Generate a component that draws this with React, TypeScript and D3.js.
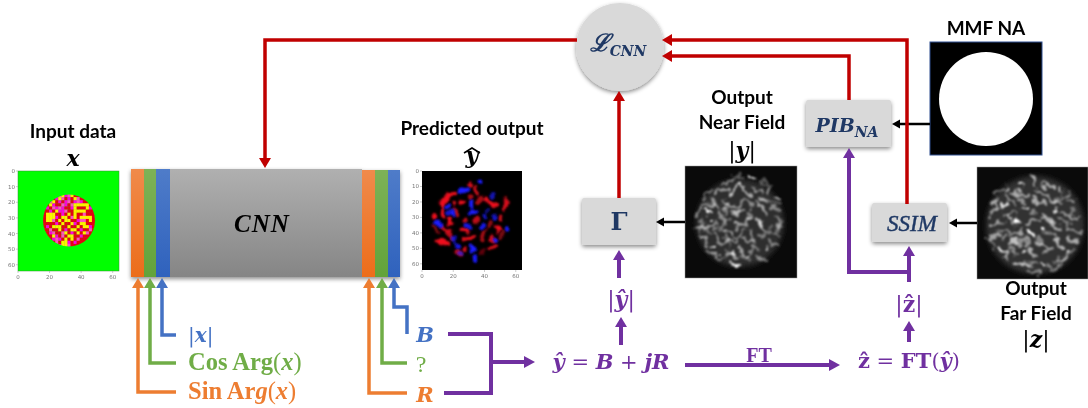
import React from "react";
import * as d3 from "d3";

type P = [number, number];
const RED = "#c00000", ORANGE = "#ed7d31", GREEN = "#70ad47", BLUE = "#4472c4", PURPLE = "#7030a0", NAVY = "#1f3864", BLACK = "#000000";
const SERIF = "'DejaVu Serif','Liberation Serif',serif";
const TNR = "'Liberation Serif',serif";
const SANS = "Lato,'Open Sans',sans-serif";

// Connectors: polyline, colour, width, arrow head length, half width
const connectors: { pts: P[]; c: string; w: number; hl: number; hw: number }[] = [
  { pts: [[577, 40], [265, 40], [265, 168]], c: RED, w: 3.5, hl: 10, hw: 6 },
  { pts: [[849, 100], [849, 56], [662, 56]], c: RED, w: 3.5, hl: 10, hw: 6 },
  { pts: [[619, 198], [619, 91]], c: RED, w: 3.5, hl: 10, hw: 6 },
  { pts: [[930, 124], [892, 124]], c: BLACK, w: 2.5, hl: 8, hw: 4.5 },
  { pts: [[907, 204], [907, 40], [662, 40]], c: RED, w: 3.5, hl: 10, hw: 6 },
  { pts: [[685, 222], [656, 222]], c: BLACK, w: 2.5, hl: 8, hw: 4.5 },
  { pts: [[977, 223], [949, 223]], c: BLACK, w: 2.5, hl: 8, hw: 4.5 },
  { pts: [[176, 392], [138, 392], [138, 278]], c: ORANGE, w: 3.5, hl: 10, hw: 6 },
  { pts: [[176, 363], [150, 363], [150, 278]], c: GREEN, w: 3.5, hl: 10, hw: 6 },
  { pts: [[176, 335], [162, 335], [162, 278]], c: BLUE, w: 3.5, hl: 10, hw: 6 },
  { pts: [[407, 393], [369, 393], [369, 278]], c: ORANGE, w: 3.5, hl: 10, hw: 6 },
  { pts: [[407, 363], [382, 363], [382, 278]], c: GREEN, w: 3.5, hl: 10, hw: 6 },
  { pts: [[407, 334], [407, 307], [394, 307], [394, 278]], c: BLUE, w: 3.5, hl: 10, hw: 6 },
  { pts: [[491, 362], [535, 362]], c: PURPLE, w: 4, hl: 11, hw: 6 },
  { pts: [[621, 345], [621, 317]], c: PURPLE, w: 4, hl: 10, hw: 6 },
  { pts: [[619, 278], [619, 250]], c: PURPLE, w: 4, hl: 10, hw: 6 },
  { pts: [[685, 365], [840, 365]], c: PURPLE, w: 4, hl: 11, hw: 6 },
  { pts: [[909, 342], [909, 321]], c: PURPLE, w: 4, hl: 10, hw: 6 },
  { pts: [[909, 282], [909, 246]], c: PURPLE, w: 4, hl: 10, hw: 6 },
  { pts: [[909, 272], [849, 272], [849, 148]], c: PURPLE, w: 4, hl: 10, hw: 6 },
];
const plainLines: { pts: P[]; c: string; w: number }[] = [
  { pts: [[448, 334], [491, 334], [491, 393], [444, 393]], c: PURPLE, w: 4 },
];

// Input phase pattern, one char per 2-pixel cell of the disk
const inputCells = [
  "RRRRRPYMPYRRRRRRR", "RRRRMYPRMRYPRRRRR", "RRPYRMRMPRMPMRRRR", "RRYMRRPMRPYYYYYRR",
  "RMRPMPMRRMYRRRYMR", "RRMRYMMPRRYYYYRRR", "RYYYRRMRYRYRRPRRR", "RYYYMRYYRPYRYYYYR",
  "RYYPRYRYYRRMPPRYR", "RRRRMRYRRYMRYYRRR", "RMRYYYRRYRRYRYYMR", "RRPRRYRMRYYRMRRPR",
  "RRMPRRPYRMRYRYPRR", "RRRYMRPRYYRRMRRRR", "RRRMPMRYRYRPRRRRR", "RRRRPRYYMRMRRRRRR",
  "RRRRRMYYPRRRRRRRR",
];
const cellColor: Record<string, string> = { R: "#e60012", Y: "#fff000", M: "#ff00e0", P: "#ff50c0" };

type Seg = [number, number, number, number, number];
// x1,y1,x2,y2,brightness in the crop frame of each picture
const predRed: Seg[] = [
  [85, 85, 110, 75, 1], [65, 110, 80, 90, 1], [70, 150, 65, 120, 1], [40, 148, 42, 150, 1], [50, 215, 85, 230, 1],
  [195, 95, 225, 110, 1], [260, 100, 255, 120, .9], [250, 140, 245, 155, .9], [145, 45, 147, 50, .9], [130, 100, 132, 105, 1],
  [90, 155, 92, 165, 1], [125, 185, 145, 188, 1], [225, 175, 235, 187, 1], [215, 205, 215, 220, .9], [130, 240, 132, 245, .9],
  [113, 250, 120, 265, .8], [135, 212, 165, 208, 1], [85, 195, 100, 215, .8], [100, 105, 102, 108, .9], [160, 60, 170, 75, .9],
  [210, 243, 225, 235, .9], [130, 160, 140, 155, .8], [165, 155, 168, 158, .8], [70, 175, 85, 185, .9], [105, 125, 118, 135, .8], [190, 215, 195, 190, .7], [175, 100, 180, 90, .7],
  [205, 175, 215, 160, .6], [150, 85, 152, 92, .7], [40, 175, 55, 190, .5], [240, 210, 250, 195, .5], [180, 255, 195, 250, .4],
];
const predBlue: Seg[] = [
  [125, 70, 140, 65, 1], [178, 45, 180, 45, 1], [80, 115, 82, 112, 1], [155, 105, 155, 118, 1], [165, 132, 150, 135, 1],
  [100, 135, 102, 138, 1], [50, 165, 65, 170, 1], [262, 185, 263, 187, 1.2], [222, 215, 224, 217, 1], [150, 175, 135, 172, .9],
  [185, 175, 187, 172, .9], [155, 240, 157, 248, 1], [168, 270, 170, 272, 1], [110, 235, 112, 230, .9], [105, 215, 107, 212, .8],
  [225, 145, 228, 143, .8], [215, 80, 217, 82, .7], [190, 150, 192, 148, .8], [120, 258, 122, 262, .7], [85, 140, 95, 132, .8], [200, 130, 203, 125, .5],
];
const nearSpeckle: Seg[] = [
  [75, 142, 77, 143, 1], [80, 163, 82, 163, 1], [93, 240, 95, 240, 1], [196, 275, 198, 273, 1], [150, 301, 178, 301, .95], [196, 42, 216, 44, .95], [258, 75, 258, 78, .8], [285, 100, 287, 102, .8],
  [255, 255, 258, 254, .85], [152, 262, 154, 270, .85], [100, 270, 104, 272, .7], [240, 180, 232, 165, .7], [155, 175, 175, 175, .7],
  [145, 95, 175, 60, .75], [175, 60, 200, 90, .6], [100, 80, 140, 75, .55], [120, 60, 150, 50, .45], [60, 120, 100, 120, .55], [50, 150, 60, 130, .5], [45, 190, 90, 190, .5],
  [60, 215, 75, 245, .55], [120, 195, 155, 210, .6], [130, 130, 170, 125, .6], [150, 150, 195, 140, .5], [215, 110, 255, 150, .6], [230, 100, 260, 120, .5],
  [225, 170, 250, 195, .65], [270, 130, 300, 140, .45], [280, 160, 295, 190, .45], [265, 210, 290, 215, .4], [120, 240, 160, 230, .55], [180, 225, 220, 240, .55],
  [210, 195, 205, 225, .5], [110, 150, 135, 170, .45], [170, 190, 205, 165, .5], [100, 210, 115, 235, .5], [220, 280, 255, 290, .45], [90, 105, 115, 135, .5],
  [255, 225, 285, 250, .45], [130, 260, 165, 285, .5], [175, 250, 185, 270, .55], [215, 70, 240, 90, .5], [240, 50, 265, 70, .3], [75, 265, 115, 290, .45], [55, 170, 75, 205, .35], [125, 110, 130, 150, .4], [190, 110, 210, 130, .45], [90, 215, 70, 180, .3], [205, 290, 175, 275, .35], [150, 40, 180, 35, .3],
  [100, 165, 100, 195, .4], [135, 175, 110, 190, .35], [175, 210, 160, 225, .4], [195, 195, 180, 210, .4], [235, 215, 265, 195, .4], [225, 255, 205, 262, .4], [280, 215, 300, 170, .3], [70, 100, 90, 70, .4], [180, 110, 165, 145, .45], [210, 145, 200, 170, .4], [240, 105, 285, 120, .35], [50, 215, 55, 190, .3], [130, 215, 140, 250, .35], [115, 285, 150, 270, .35],
];
const farSpeckle: Seg[] = [
  [135, 62, 145, 65, 1], [262, 70, 262, 85, .95], [75, 255, 100, 262, 1], [130, 160, 135, 175, 1], [145, 135, 160, 135, 1], [205, 200, 210, 200, 1], [170, 205, 180, 215, 1], [285, 262, 285, 270, .9], [148, 263, 152, 265, .9],
  [210, 295, 220, 300, .9], [240, 135, 250, 140, .85], [90, 118, 96, 122, .85], [100, 70, 95, 85, .7], [120, 85, 150, 95, .6], [175, 40, 190, 65, .65], [205, 60, 235, 70, .6],
  [60, 120, 65, 145, .55], [45, 150, 80, 135, .5], [55, 185, 90, 170, .55], [45, 225, 80, 210, .55], [100, 150, 120, 185, .6], [170, 100, 210, 120, .6], [190, 85, 250, 115, .5],
  [280, 110, 300, 115, .55], [270, 150, 310, 165, .5], [290, 190, 320, 205, .5], [280, 225, 310, 235, .6], [230, 175, 265, 200, .6], [205, 150, 230, 170, .6], [160, 175, 195, 170, .55],
  [115, 215, 140, 200, .55], [110, 240, 130, 230, .7], [185, 235, 225, 250, .6], [240, 225, 265, 250, .65], [170, 250, 180, 280, .6], [120, 295, 160, 300, .7], [90, 285, 105, 270, .55],
  [240, 285, 275, 285, .55], [165, 320, 200, 325, .45], [60, 90, 85, 75, .4], [210, 270, 235, 255, .5], [130, 270, 110, 255, .45], [150, 215, 160, 240, .5], [280, 90, 255, 105, .4], [300, 255, 270, 290, .4], [75, 195, 110, 200, .45], [155, 115, 135, 105, .5],
  [100, 100, 125, 125, .45], [70, 100, 60, 115, .4], [190, 135, 170, 150, .45], [215, 210, 240, 210, .45], [195, 215, 205, 240, .4], [135, 235, 145, 225, .45], [85, 225, 100, 215, .5], [250, 165, 285, 180, .4], [265, 125, 245, 110, .4], [150, 290, 190, 305, .4], [225, 310, 265, 305, .4], [60, 250, 50, 230, .4], [120, 150, 85, 150, .4], [300, 135, 285, 150, .35],
];

const tickYs = [0, 10, 20, 30, 40, 50, 60];
const tickXs = [0, 20, 40, 60];

const line = d3.line<P>();

function Conn({ pts, c, w, hl, hw }: { pts: P[]; c: string; w: number; hl: number; hw: number }) {
  const tip = pts[pts.length - 1];
  const prev = pts[pts.length - 2];
  const len = Math.hypot(tip[0] - prev[0], tip[1] - prev[1]);
  const ux = (tip[0] - prev[0]) / len, uy = (tip[1] - prev[1]) / len;
  const base: P = [tip[0] - ux * hl, tip[1] - uy * hl];
  const head: P[] = [tip, [base[0] - uy * hw, base[1] + ux * hw], [base[0] + uy * hw, base[1] - ux * hw]];
  return (
    <g>
      <path d={line([...pts.slice(0, -1), base]) ?? ""} fill="none" stroke={c} strokeWidth={w} strokeLinejoin="miter" />
      <path d={(line(head) ?? "") + "Z"} fill={c} />
    </g>
  );
}

function Axes({ x0, y0, x1, y1 }: { x0: number; y0: number; x1: number; y1: number }) {
  const sx = d3.scaleLinear().domain([0, 64]).range([x0, x1]);
  const sy = d3.scaleLinear().domain([0, 64]).range([y0, y1]);
  return (
    <g fontFamily="'DejaVu Sans',sans-serif" fontSize={5.5} fill="#777">
      {tickYs.map(t => (
        <g key={t}>
          <line x1={x0 - 2} x2={x0} y1={sy(t)} y2={sy(t)} stroke="#999" strokeWidth={0.5} />
          <text x={x0 - 3} y={sy(t) + 2} textAnchor="end">{t}</text>
        </g>
      ))}
      {tickXs.map(t => (
        <g key={t}>
          <line y1={y1} y2={y1 + 2} x1={sx(t)} x2={sx(t)} stroke="#999" strokeWidth={0.5} />
          <text x={sx(t)} y={y1 + 8} textAnchor="middle">{t}</text>
        </g>
      ))}
    </g>
  );
}

function Speckle({ id, data, frame, sw, color, blur }: { id: string; data: Seg[]; frame: [number, number, number, number]; sw: number; color: string; blur: string }) {
  const sx = d3.scaleLinear().domain([0, frame[2]]).range([frame[0], frame[0] + frame[2] / 3]);
  const sy = d3.scaleLinear().domain([0, frame[3]]).range([frame[1], frame[1] + frame[3] / 3]);
  return (
    <g clipPath={`url(#${id})`}>
      <g filter={`url(#${blur})`} style={{ mixBlendMode: "screen" }}>
        {data.map((d, i) => (
          <line key={i} x1={sx(d[0])} y1={sy(d[1])} x2={sx(d[2])} y2={sy(d[3])} stroke={color} strokeWidth={sw} strokeLinecap="round" strokeOpacity={Math.min(1, d[4])} />
        ))}
      </g>
    </g>
  );
}

function Label({ x, y, size, fill = "#000", anchor = "middle", family = SANS, weight = 700, style, children }: any) {
  return <text x={x} y={y} fontSize={size} fill={fill} textAnchor={anchor} fontFamily={family} fontWeight={weight} fontStyle={style}>{children}</text>;
}

function GradBox({ x, y, w, h, fill }: { x: number; y: number; w: number; h: number; fill: string }) {
  return <rect x={x} y={y} width={w} height={h} fill={fill} />;
}

export default function App() {
  const band = d3.scaleBand<number>().domain(d3.range(inputCells[0].length)).range([43, 95]);
  const bandY = d3.scaleBand<number>().domain(d3.range(inputCells.length)).range([194, 247]);
  return (
    <svg width={1088} height={408} viewBox="0 0 1088 408" style={{ position: "absolute", left: 0, top: 0, background: "#fff", filter: "blur(0.35px)" }}>
      <defs>
        <filter id="shadow" x="-20%" y="-20%" width="140%" height="140%"><feDropShadow dx="0" dy="2" stdDeviation="2" floodColor="#000" floodOpacity="0.45" /></filter>
        <filter id="b05"><feGaussianBlur stdDeviation="0.5" /></filter>
        <filter id="b3" x="-10%" y="-10%" width="120%" height="120%"><feGaussianBlur stdDeviation="2.5" /></filter>
        <filter id="bPred" x="-10%" y="-10%" width="120%" height="120%">
          <feTurbulence type="fractalNoise" baseFrequency="0.09" numOctaves="2" seed="4" result="n" />
          <feDisplacementMap in="SourceGraphic" in2="n" scale="9" xChannelSelector="R" yChannelSelector="G" />
          <feGaussianBlur stdDeviation="1.3" />
        </filter>
        <filter id="bSpk" x="-10%" y="-10%" width="120%" height="120%">
          <feTurbulence type="fractalNoise" baseFrequency="0.12" numOctaves="2" seed="7" result="n" />
          <feDisplacementMap in="SourceGraphic" in2="n" scale="14" xChannelSelector="R" yChannelSelector="G" />
          <feGaussianBlur stdDeviation="0.95" />
        </filter>
        <linearGradient id="gGray" x1="0" y1="0" x2="0" y2="1"><stop offset="0" stopColor="#b0b0b0" /><stop offset="1" stopColor="#858585" /></linearGradient>
        <linearGradient id="gOrange" x1="0" y1="0" x2="0" y2="1"><stop offset="0" stopColor="#f08a4b" /><stop offset="1" stopColor="#ec6d1a" /></linearGradient>
        <linearGradient id="gGreen" x1="0" y1="0" x2="0" y2="1"><stop offset="0" stopColor="#7db257" /><stop offset="1" stopColor="#62a33a" /></linearGradient>
        <linearGradient id="gBlue" x1="0" y1="0" x2="0" y2="1"><stop offset="0" stopColor="#4f7cc9" /><stop offset="1" stopColor="#2f62bd" /></linearGradient>
        <clipPath id="diskIn"><circle cx={69} cy={220.5} r={26} /></clipPath>
        <clipPath id="cPred"><rect x={422} y={171} width={100} height={99} /></clipPath>
        <clipPath id="cNear"><rect x={685} y={166} width={112} height={112} /></clipPath>
        <clipPath id="cFar"><rect x={977} y={167} width={111} height={112} /></clipPath>
      </defs>

      {/* CNN block */}
      <g filter="url(#shadow)">
        <GradBox x={131} y={169} w={231} h={108} fill="url(#gGray)" />
        <GradBox x={362} y={170} w={38} h={107} fill="url(#gGray)" />
      </g>
      <GradBox x={131} y={169} w={13} h={108} fill="url(#gOrange)" />
      <GradBox x={144} y={169} w={12} h={108} fill="url(#gGreen)" />
      <GradBox x={156} y={169} w={14} h={108} fill="url(#gBlue)" />
      <GradBox x={362} y={170} w={13} h={107} fill="url(#gOrange)" />
      <GradBox x={375} y={170} w={13} h={107} fill="url(#gGreen)" />
      <GradBox x={388} y={170} w={12} h={107} fill="url(#gBlue)" />
      <text x={262} y={232} textAnchor="middle" fontFamily={TNR} fontStyle="italic" fontWeight={700} fontSize={25} letterSpacing={1}>CNN</text>

      {/* Input image */}
      <rect x={18} y={171} width={101} height={100} fill="#00ff00" stroke="#3a8a3a" strokeWidth={0.5} />
      <g clipPath="url(#diskIn)"><g filter="url(#b05)">
        {inputCells.map((row, r) => row.split("").map((ch, c) => (
          <rect key={`${r}-${c}`} x={band(c)} y={bandY(r)} width={band.bandwidth() + 0.2} height={bandY.bandwidth() + 0.2} fill={cellColor[ch]} />
        )))}
      </g></g>
      <Axes x0={18} y0={171} x1={119} y1={271} />

      {/* Predicted image */}
      <rect x={422} y={171} width={100} height={99} fill="#000" />
      <Speckle id="cPred" data={predRed} frame={[420, 168, 330, 324]} sw={4.2} color="#f0101f" blur="bPred" />
      <Speckle id="cPred" data={predBlue} frame={[420, 168, 330, 324]} sw={5} color="#1a1aff" blur="bPred" />
      <Axes x0={422} y0={171} x1={522} y1={270} />

      {/* Near and far field */}
      <rect x={685} y={166} width={112} height={112} fill="#0a0a0a" stroke="#999" strokeWidth={0.5} />
      <circle cx={740} cy={223} r={44} fill="#2e2e2e" filter="url(#b3)" />
      <Speckle id="cNear" data={nearSpeckle} frame={[682, 164, 354, 348]} sw={2.8} color="#ffffff" blur="bSpk" />
      <rect x={977} y={167} width={111} height={112} fill="#0a0a0a" stroke="#999" strokeWidth={0.5} />
      <circle cx={1035} cy={225} r={49} fill="#333333" filter="url(#b3)" />
      <Speckle id="cFar" data={farSpeckle} frame={[974, 164, 342, 354]} sw={3.2} color="#ffffff" blur="bSpk" />

      {/* MMF NA */}
      <rect x={930} y={42} width={112} height={113} fill="#000" stroke="#2f4f8f" strokeWidth={1} />
      <circle cx={986} cy={99} r={47} fill="#fff" filter="url(#b05)" />

      {/* Boxes */}
      <circle cx={620} cy={47} r={44} fill="#d9d9d9" filter="url(#shadow)" />
      <rect x={582} y={198} width={74} height={47} rx={2} fill="#d9d9d9" filter="url(#shadow)" />
      <rect x={806} y={100} width={85} height={47} rx={2} fill="#d9d9d9" filter="url(#shadow)" />
      <rect x={872} y={203} width={75} height={39} rx={2} fill="#d9d9d9" filter="url(#shadow)" />

      {connectors.map((c, i) => <Conn key={i} {...c} />)}
      {plainLines.map((l, i) => <path key={i} d={line(l.pts) ?? ""} fill="none" stroke={l.c} strokeWidth={l.w} />)}

      {/* Box labels */}
      <text x={618} y={51} textAnchor="middle" fill={NAVY} fontFamily={SERIF} fontStyle="italic" fontWeight={700} fontSize={24}>ℒ<tspan fontSize={14} dy={5}>CNN</tspan></text>
      <Label x={619} y={230} size={24} fill={NAVY} family={SERIF}>Γ</Label>
      <text x={847} y={132} textAnchor="middle" fill={NAVY} fontFamily={SERIF} fontStyle="italic" fontWeight={700} fontSize={19}>PIB<tspan fontSize={14} dy={5}>NA</tspan></text>
      <text x={912} y={231} textAnchor="middle" fill={NAVY} stroke={NAVY} strokeWidth={0.4} fontFamily={TNR} fontStyle="italic" fontSize={23}>SSIM</text>

      {/* Titles */}
      <Label x={73} y={138} size={19}>Input data</Label>
      <Label x={73} y={166} size={22} family={SERIF} style="italic">x</Label>
      <Label x={472} y={135} size={19}>Predicted output</Label>
      <Label x={472} y={163} size={22} family={SERIF} style="italic">y</Label>
      <path d={line([[464, 153], [472, 148], [480, 153]]) ?? ""} fill="none" stroke="#000" strokeWidth={1.5} />
      <Label x={986} y={35} size={19}>MMF NA</Label>
      <Label x={742} y={104} size={19}>Output</Label>
      <Label x={742} y={129} size={19}>Near Field</Label>
      <Label x={742} y={158} size={22} family={SERIF}><tspan fontWeight={400}>|</tspan><tspan fontStyle="italic">y</tspan><tspan fontWeight={400}>|</tspan></Label>
      <Label x={1036} y={295} size={19}>Output</Label>
      <Label x={1036} y={320} size={19}>Far Field</Label>
      <Label x={1036} y={347} size={22} family={SERIF}><tspan fontWeight={400}>|</tspan><tspan fontStyle="italic">z</tspan><tspan fontWeight={400}>|</tspan></Label>

      {/* Left inputs */}
      <Label x={188} y={342} size={20} fill={BLUE} anchor="start" family={SERIF}><tspan fontWeight={400}>|</tspan><tspan fontStyle="italic">x</tspan><tspan fontWeight={400}>|</tspan></Label>
      <Label x={188} y={370} size={24.5} fill={GREEN} anchor="start" family={TNR}>Cos Arg<tspan fontWeight={400}>(</tspan><tspan fontStyle="italic">x</tspan><tspan fontWeight={400}>)</tspan></Label>
      <Label x={188} y={399} size={24.5} fill={ORANGE} anchor="start" family={TNR}>Sin A<tspan>r</tspan><tspan fontStyle="italic">g</tspan><tspan fontWeight={400}>(</tspan><tspan fontStyle="italic">x</tspan><tspan fontWeight={400}>)</tspan></Label>

      {/* Right outputs */}
      <Label x={425} y={342} size={21} fill={BLUE} family={SERIF} style="italic">B</Label>
      <Label x={421} y={372} size={24} fill={GREEN} family={TNR} weight={400}>?</Label>
      <Label x={425} y={402} size={21} fill={ORANGE} family={SERIF} style="italic">R</Label>

      {/* Purple maths */}
      <text x={611} y={369} textAnchor="middle" fill={PURPLE} fontFamily={SERIF} fontWeight={700} fontSize={21}><tspan fontStyle="italic">ŷ</tspan><tspan fontWeight={400}> = </tspan><tspan fontStyle="italic">B</tspan><tspan fontWeight={400}> + </tspan><tspan fontStyle="italic">jR</tspan></text>
      <text x={621} y={307} textAnchor="middle" fill={PURPLE} fontFamily={SERIF} fontWeight={700} fontSize={22}><tspan fontWeight={400}>|</tspan><tspan fontStyle="italic">ŷ</tspan><tspan fontWeight={400}>|</tspan></text>
      <Label x={759} y={362} size={20} fill={PURPLE} family={TNR}>FT</Label>
      <text x={909} y={368} textAnchor="middle" fill={PURPLE} fontFamily={SERIF} fontWeight={700} fontSize={21}>ẑ<tspan fontWeight={400}> = </tspan>FT<tspan fontWeight={400}>(</tspan><tspan fontStyle="italic">ŷ</tspan><tspan fontWeight={400}>)</tspan></text>
      <text x={909} y={312} textAnchor="middle" fill={PURPLE} fontFamily={SERIF} fontWeight={700} fontSize={22}><tspan fontWeight={400}>|</tspan>ẑ<tspan fontWeight={400}>|</tspan></text>
    </svg>
  );
}
